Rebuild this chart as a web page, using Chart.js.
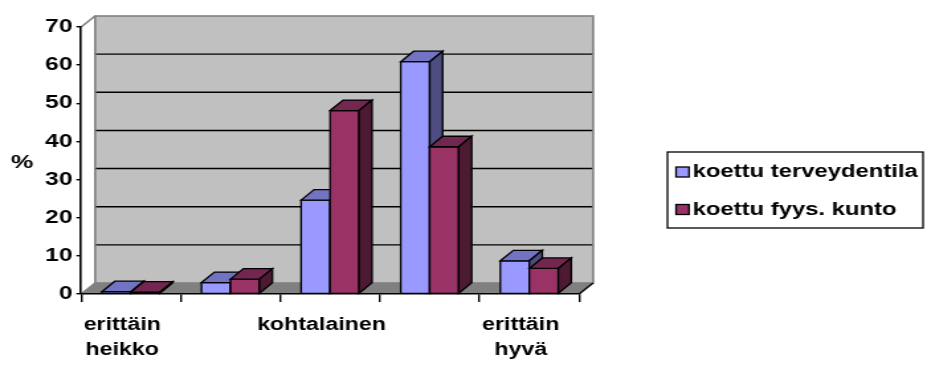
<!DOCTYPE html>
<html lang="fi">
<head>
<meta charset="utf-8">
<title>Koettu terveydentila ja fyysinen kunto</title>
<script src="https://cdn.jsdelivr.net/npm/chart.js@4/dist/chart.umd.min.js"></script>
<style>
  html, body { margin: 0; padding: 0; background: #fff; overflow: hidden; }
  /* the chart is laid out at 700 px and widened to the 927 px page */
  #wrap { width: 700px; height: 365px; transform: scaleX(1.3243); transform-origin: 0 0; }
  canvas { display: block; }
</style>
</head>
<body>
<div id="wrap"><canvas id="c" width="700" height="365"></canvas></div>
<script>
// ---- data ----
const categories = [['erittäin', 'heikko'], 'heikko', 'kohtalainen', 'hyvä', ['erittäin', 'hyvä']];
const seriesNames = ['koettu terveydentila', 'koettu fyys. kunto'];
const terveydentila = [0.6, 3.0, 24.6, 60.9, 8.7];
const fyysKunto = [0.5, 3.9, 48.1, 38.6, 6.7];
const yTicks = [0, 10, 20, 30, 40, 50, 60, 70];
const axisTitle = '%';

// ---- colours (front, top, side faces) ----
const frontColors = ['#9999ff', '#993366'];
const topColors = ['#7373c4', '#73264f'];
const sideColors = ['#4d4d80', '#4d1a33'];

const FONT = '"Liberation Sans", Arial, Helvetica, sans-serif';
const WALL = { dx: 10.6, dy: -11 };   // depth of back wall
const BAR = { dx: 9.8, dy: -10.5 };   // depth of each column

function seg(ctx, x1, y1, x2, y2) {
  ctx.beginPath(); ctx.moveTo(x1, y1); ctx.lineTo(x2, y2); ctx.stroke();
}
function poly(ctx, pts, fill) {
  ctx.beginPath();
  ctx.moveTo(pts[0][0], pts[0][1]);
  for (let i = 1; i < pts.length; i++) ctx.lineTo(pts[i][0], pts[i][1]);
  ctx.closePath();
  ctx.fillStyle = fill; ctx.fill(); ctx.stroke();
}

const scene3d = {
  id: 'scene3d',
  beforeDraw(chart) {
    const { ctx, chartArea: a, scales: { y } } = chart;
    const L = a.left, R = a.right, T = a.top, B = a.bottom;
    ctx.save();
    // back wall
    ctx.fillStyle = '#c0c0c0';
    ctx.fillRect(L + WALL.dx, T + WALL.dy, R - L, B - T);
    // floor
    ctx.beginPath();
    ctx.moveTo(L, B); ctx.lineTo(R, B);
    ctx.lineTo(R + WALL.dx, B + WALL.dy); ctx.lineTo(L + WALL.dx, B + WALL.dy);
    ctx.closePath();
    ctx.fillStyle = '#808080'; ctx.fill();
    // value grid on the back wall
    ctx.strokeStyle = '#000'; ctx.lineWidth = 1.4;
    yTicks.forEach(v => {
      if (v === yTicks[0] || v === yTicks[yTicks.length - 1]) return;
      const py = y.getPixelForValue(v) + WALL.dy;
      seg(ctx, L + WALL.dx, py, R + WALL.dx, py);
    });
    // wall outline
    ctx.strokeStyle = '#808080'; ctx.lineWidth = 1.6;
    ctx.strokeRect(L + WALL.dx, T + WALL.dy, R - L, B - T);
    seg(ctx, L, T, L + WALL.dx, T + WALL.dy);
    seg(ctx, L, B, L + WALL.dx, B + WALL.dy);
    ctx.strokeStyle = '#000'; ctx.lineWidth = 1.4;
    seg(ctx, R, B, R + WALL.dx, B + WALL.dy);
    ctx.restore();
  },
  beforeDatasetsDraw(chart) {
    const { ctx } = chart;
    const metas = chart.data.datasets.map((_, d) => chart.getDatasetMeta(d));
    ctx.save();
    ctx.strokeStyle = '#000'; ctx.lineWidth = 1.3; ctx.lineJoin = 'miter';
    for (let i = 0; i < categories.length; i++) {
      metas.forEach((meta, d) => {
        const el = meta.data[i];
        const { x, y: top, base, width } = el.getProps(['x', 'y', 'base', 'width'], true);
        const l = x - width / 2, r = x + width / 2;
        poly(ctx, [[l, top], [r, top], [r, base], [l, base]], frontColors[d]);
        poly(ctx, [[l, top], [l + BAR.dx, top + BAR.dy], [r + BAR.dx, top + BAR.dy], [r, top]], topColors[d]);
        poly(ctx, [[r, top], [r + BAR.dx, top + BAR.dy], [r + BAR.dx, base + BAR.dy], [r, base]], sideColors[d]);
      });
    }
    ctx.restore();
    return false;
  },
  afterDraw(chart) {
    const { ctx } = chart;
    ctx.save();
    // axis title
    ctx.fillStyle = '#000';
    ctx.font = 'bold 19px ' + FONT;
    ctx.textAlign = 'center'; ctx.textBaseline = 'middle';
    ctx.fillText(axisTitle, 16.8, 163);
    // legend
    ctx.font = 'bold 18px ' + FONT;
    const box = { x: 504, y: 152, w: 193, h: 76 };
    ctx.strokeStyle = '#000'; ctx.lineWidth = 1.3;
    ctx.fillStyle = '#fff';
    ctx.fillRect(box.x, box.y, box.w, box.h);
    ctx.strokeRect(box.x, box.y, box.w, box.h);
    const rows = [172, 209.5];
    ctx.textAlign = 'left';
    chart.data.datasets.forEach((ds, d) => {
      ctx.fillStyle = ds.backgroundColor;
      ctx.fillRect(510.5, rows[d] - 5, 9.8, 10);
      ctx.strokeRect(510.5, rows[d] - 5, 9.8, 10);
      ctx.fillStyle = '#000';
      ctx.fillText(ds.label, 523, rows[d] + 0.5);
    });
    ctx.restore();
  }
};

new Chart(document.getElementById('c'), {
  type: 'bar',
  data: {
    labels: categories,
    datasets: [
      { label: seriesNames[0], data: terveydentila, backgroundColor: frontColors[0] },
      { label: seriesNames[1], data: fyysKunto, backgroundColor: frontColors[1] }
    ]
  },
  options: {
    responsive: false,
    devicePixelRatio: 1,
    animation: false,
    events: [],
    layout: { padding: { top: 27, right: 262.7, left: 0, bottom: 0 } },
    datasets: { bar: { categoryPercentage: 0.582, barPercentage: 1 } },
    plugins: { legend: { display: false }, tooltip: { enabled: false } },
    scales: {
      x: {
        afterFit(s) { s.height = 71; },
        grid: { drawOnChartArea: false, drawTicks: true, tickLength: 8, color: '#000', lineWidth: 1.4, offset: true },
        border: { display: true, color: '#000', width: 1.4 },
        ticks: {
          autoSkip: false, maxRotation: 0, color: '#000', padding: 11, labelOffset: -6.5,
          font: { family: FONT, size: 17.5, weight: 'bold', lineHeight: 1.43 },
          callback(value, index) { return index % 2 === 0 ? this.getLabelForValue(value) : ''; }
        }
      },
      y: {
        min: 0, max: 70,
        afterFit(s) { s.width = 61.2; },
        afterBuildTicks(s) { s.ticks = yTicks.map(v => ({ value: v })); },
        grid: { drawOnChartArea: false, drawTicks: true, tickLength: 3.5, color: '#000', lineWidth: 1.4 },
        border: { display: true, color: '#000', width: 1.6 },
        ticks: { color: '#000', padding: 3, font: { family: FONT, size: 18.5, weight: 'bold' } }
      }
    }
  },
  plugins: [scene3d]
});
</script>
</body>
</html>
